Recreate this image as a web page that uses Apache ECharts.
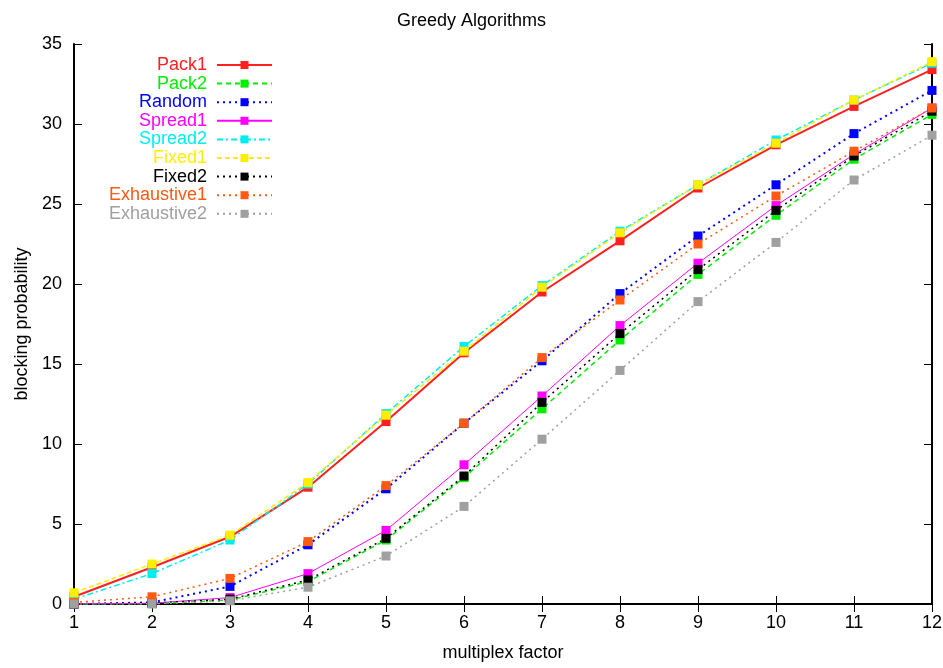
<!DOCTYPE html>
<html><head><meta charset="utf-8">
<script src="https://cdn.jsdelivr.net/npm/echarts@6/dist/echarts.min.js"></script>
<style>html,body{margin:0;padding:0;background:#fff}#c{width:943px;height:668px}</style>
</head><body><div id="c"></div>
<script>
const xValues = [1,2,3,4,5,6,7,8,9,10,11,12];
const pack1 = [0.45,2.3,4.2,7.3,11.4,15.7,19.5,22.7,26.0,28.7,31.1,33.4];
const pack2 = [0.0,0.02,0.25,1.4,4.0,7.9,12.2,16.5,20.6,24.3,27.8,30.6];
const random = [0.0,0.1,1.1,3.7,7.2,11.3,15.2,19.4,23.0,26.2,29.4,32.1];
const spread1 = [0.0,0.05,0.4,1.9,4.6,8.7,13.0,17.4,21.3,24.9,28.1,31.0];
const spread2 = [0.3,1.9,4.0,7.5,11.9,16.1,19.9,23.3,26.2,29.0,31.5,33.8];
const fixed1 = [0.7,2.5,4.3,7.6,11.8,15.8,19.8,23.2,26.2,28.8,31.5,33.9];
const fixed2 = [0.0,0.05,0.3,1.5,4.1,8.0,12.6,16.9,20.9,24.6,28.0,30.8];
const exhaustive1 = [0.1,0.45,1.6,3.9,7.4,11.3,15.4,19.0,22.5,25.5,28.3,31.0];
const exhaustive2 = [0.0,0.01,0.2,1.05,3.0,6.1,10.3,14.6,18.9,22.6,26.5,29.3];

const seriesDefs = [
  {name:'Pack1', data:pack1, color:'#ff2020', type:'solid', width:2},
  {name:'Pack2', data:pack2, color:'#00ee00', type:[5,4], width:1.5},
  {name:'Random', data:random, color:'#0000ff', type:[2,4], width:2},
  {name:'Spread1', data:spread1, color:'#ff00ff', type:'solid', width:1},
  {name:'Spread2', data:spread2, color:'#00eeee', type:[6,3,2,3], width:1.5},
  {name:'Fixed1', data:fixed1, color:'#ffee00', type:[5,3], width:1.5},
  {name:'Fixed2', data:fixed2, color:'#000000', type:[2,4], width:1.5},
  {name:'Exhaustive1', data:exhaustive1, color:'#ff5a10', type:[2,4], width:1.5},
  {name:'Exhaustive2', data:exhaustive2, color:'#a0a0a0', type:[2,4], width:1.5}
];

const font = 'Liberation Sans, Arial, sans-serif';
const legends = seriesDefs.map((s,i)=>({
  data:[s.name], orient:'vertical', right:943-273, top:56+i*18.6,
  itemWidth:55, itemHeight:10, align:'right', itemGap:0, padding:0,
  textStyle:{color:s.color, fontFamily:font, fontSize:18, padding:[0,5,0,0]}, selectedMode:false
}));

const chart = echarts.init(document.getElementById('c'));
chart.setOption({
  animation:false,
  backgroundColor:'#fff',
  title:{text:'Greedy Algorithms', left:'center', top:7, textStyle:{fontFamily:font, fontSize:18, fontWeight:'normal', color:'#000'}},
  legend: legends,
  grid:{left:74, right:11, top:44, bottom:64, outerBoundsMode:'none', containLabel:false},
  xAxis:[{
    type:'value', min:1, max:12, interval:1,
    name:'multiplex factor', nameLocation:'middle', nameGap:40,
    nameTextStyle:{fontFamily:font, fontSize:18, color:'#000'},
    axisLine:{lineStyle:{color:'#000', width:2}},
    axisTick:{inside:true, length:8, lineStyle:{color:'#000'}},
    axisLabel:{fontFamily:font, fontSize:18, color:'#000', margin:10},
    splitLine:{show:false}
  },{
    type:'value', min:1, max:12, interval:1, position:'top',
    axisLine:{lineStyle:{color:'#000', width:2}},
    axisTick:{inside:true, length:8, lineStyle:{color:'#000'}},
    axisLabel:{show:false}, splitLine:{show:false}
  }],
  yAxis:[{
    type:'value', min:0, max:35, interval:5,
    name:'blocking probability', nameLocation:'middle', nameGap:43,
    nameTextStyle:{fontFamily:font, fontSize:18, color:'#000'},
    axisLine:{show:true, lineStyle:{color:'#000', width:2}},
    axisTick:{show:true, inside:true, length:8, lineStyle:{color:'#000'}},
    axisLabel:{fontFamily:font, fontSize:18, color:'#000', margin:12},
    splitLine:{show:false}
  },{
    type:'value', min:0, max:35, interval:5, position:'right',
    axisLine:{show:true, lineStyle:{color:'#000', width:2}},
    axisTick:{show:true, inside:true, length:8, lineStyle:{color:'#000'}},
    axisLabel:{show:false}, splitLine:{show:false}
  }],
  series: seriesDefs.map(s=>({
    name:s.name, type:'line', xAxisIndex:0, yAxisIndex:0,
    data: xValues.map((x,i)=>[x, s.data[i]]),
    symbol:'rect', symbolSize:9, showSymbol:true,
    itemStyle:{color:s.color},
    lineStyle:{color:s.color, width:s.width, type:s.type},
    emphasis:{disabled:true}
  }))
});
</script></body></html>
